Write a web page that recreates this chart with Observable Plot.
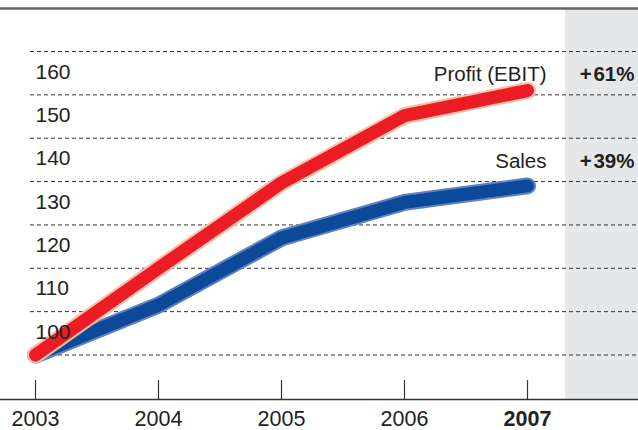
<!DOCTYPE html>
<html>
<head>
<meta charset="utf-8">
<script src="https://cdn.jsdelivr.net/npm/d3@7"></script>
<script src="https://cdn.jsdelivr.net/npm/@observablehq/plot@0.6"></script>
<style>
  html, body { margin: 0; padding: 0; background: #fff; }
  #chart svg { display: block; }
</style>
</head>
<body>
<div id="chart"></div>
<script>
// ---- data ----
const years = [2003, 2004, 2005, 2006, 2007];
const profit = [100, 120, 139.7, 155.2, 161];
const sales = [100, 111.5, 127, 135.2, 139];
const seriesNames = ["Profit (EBIT)", "Sales"];
const gridValues = [100, 110, 120, 130, 140, 150, 160, 170];
const yTickLabels = [100, 110, 120, 130, 140, 150, 160];
const highlightStart = 2007.31;

// ---- layout scales ----
const W = 638, H = 430, mTop = 8, mBottom = 31;
const xs = d3.scaleLinear([2003, 2007], [35, 527]);
const ys = d3.scaleLinear([100, 170], [354.5, 51]);
const xDomain = [xs.invert(0), xs.invert(W)];
const yDomain = [ys.invert(H - mBottom), ys.invert(mTop)];

const profitData = years.map((yr, i) => ({year: yr, value: profit[i]}));
const salesData = years.map((yr, i) => ({year: yr, value: sales[i]}));
const last = years.length - 1;
const pct = arr => "+\u200A" + Math.round((arr[last] / arr[0] - 1) * 100) + "%";

const textColor = "#222";
const font = "'Liberation Sans', Arial, Helvetica, sans-serif";

const chart = Plot.plot({
  width: W,
  height: H,
  marginLeft: 0,
  marginRight: 0,
  marginTop: mTop,
  marginBottom: mBottom,
  style: {fontFamily: font, background: "#fff"},
  x: {domain: xDomain, axis: null},
  y: {domain: yDomain, axis: null},
  marks: [
    // grey highlight band
    Plot.rect([highlightStart], {x1: d => d, x2: () => xDomain[1], fill: "#e6e7e9", insetTop: 1}),
    // dashed gridlines
    Plot.ruleY(gridValues, {stroke: "#333", strokeWidth: 1, strokeDasharray: "4,3", insetLeft: 30}),
    // top border and bottom axis line
    Plot.ruleY([yDomain[1]], {stroke: "#666", strokeWidth: 2.5}),
    Plot.ruleY([yDomain[0]], {stroke: "#333", strokeWidth: 1.5}),
    // x ticks (upward)
    Plot.ruleX(years, {x: d => d, stroke: "#333", strokeWidth: 1.2, insetTop: H - mTop - mBottom - 19}),
    // year labels
    Plot.text(years, {filter: d => d !== 2007, x: d => d, text: d => String(d), frameAnchor: "bottom", dy: 26, fontSize: 21.5, fill: textColor}),
    Plot.text(years, {filter: d => d === 2007, x: d => d, text: d => String(d), frameAnchor: "bottom", dy: 26, fontSize: 21.5, fontWeight: "bold", fill: textColor}),
    // sales line
    Plot.line(salesData, {x: "year", y: "value", stroke: "#5f80c2", strokeWidth: 17, strokeLinecap: "round", strokeLinejoin: "round"}),
    Plot.line(salesData, {x: "year", y: "value", stroke: "#0b4a98", strokeWidth: 13, strokeLinecap: "round", strokeLinejoin: "round"}),
    // profit line
    Plot.line(profitData, {x: "year", y: "value", stroke: "#f6c0a8", strokeWidth: 17, strokeLinecap: "round", strokeLinejoin: "round"}),
    Plot.line(profitData, {x: "year", y: "value", stroke: "#ec1c24", strokeWidth: 13, strokeLinecap: "round", strokeLinejoin: "round"}),
    // y labels (drawn over the lines)
    Plot.text(yTickLabels, {y: d => d, text: d => String(d), frameAnchor: "left", dx: 35, dy: -23, textAnchor: "start", fontSize: 21, fill: textColor}),
    // series labels
    Plot.text([profitData[last]], {x: "year", y: "value", text: () => seriesNames[0], textAnchor: "end", dx: 19, dy: -16, fontSize: 20.5, fill: textColor}),
    Plot.text([salesData[last]], {x: "year", y: "value", text: () => seriesNames[1], textAnchor: "end", dx: 19, dy: -24, fontSize: 20.5, fill: textColor}),
    // percentage changes
    Plot.text([profitData[last]], {y: "value", text: () => pct(profit), frameAnchor: "right", dx: -4, dy: -16, textAnchor: "end", fontSize: 20.5, fontWeight: "bold", fill: textColor}),
    Plot.text([salesData[last]], {y: "value", text: () => pct(sales), frameAnchor: "right", dx: -4, dy: -24, textAnchor: "end", fontSize: 20.5, fontWeight: "bold", fill: textColor})
  ]
});
document.getElementById("chart").appendChild(chart);
</script>
</body>
</html>
